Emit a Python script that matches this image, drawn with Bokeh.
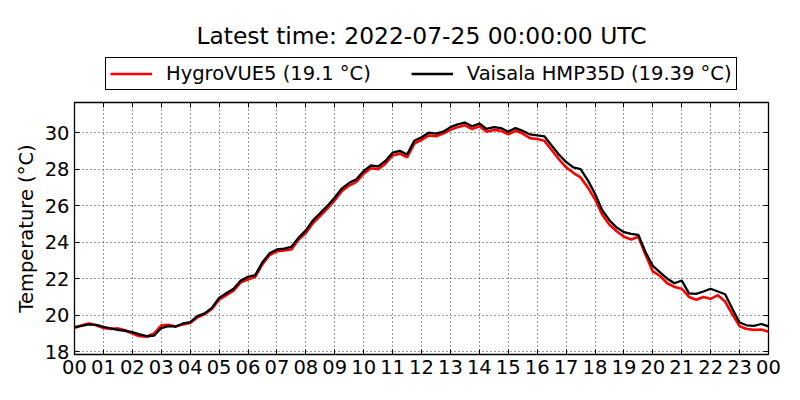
from bokeh.plotting import figure
from bokeh.models import Range1d, Legend, LegendItem, LinearAxis, FixedTicker, Label
from bokeh.layouts import column
from bokeh.embed import file_html
from bokeh.resources import INLINE

# time axis in hours (15-minute steps)
hours = [i * 0.25 for i in range(97)]

vaisala = [19.35, 19.42, 19.50, 19.47, 19.36, 19.28, 19.20, 19.15, 19.08, 18.95, 18.85, 18.88,
           19.30, 19.40, 19.38, 19.55, 19.62, 19.95, 20.10, 20.40, 20.95, 21.20, 21.45, 21.90,
           22.10, 22.20, 22.90, 23.40, 23.60, 23.65, 23.75, 24.25, 24.65, 25.20, 25.60, 26.00,
           26.45, 26.95, 27.25, 27.45, 27.90, 28.20, 28.15, 28.45, 28.90, 29.00, 28.80, 29.55,
           29.75, 30.00, 29.95, 30.05, 30.30, 30.45, 30.55, 30.35, 30.50, 30.20, 30.30, 30.25,
           30.05, 30.25, 30.10, 29.90, 29.85, 29.80, 29.30, 28.80, 28.40, 28.10, 28.00, 27.40,
           26.65, 25.75, 25.20, 24.80, 24.55, 24.45, 24.40, 23.45, 22.70, 22.35, 22.00, 21.75,
           21.90, 21.20, 21.17, 21.30, 21.45, 21.30, 21.15, 20.35, 19.60, 19.45, 19.42, 19.52,
           19.39]

hygrovue = [19.30, 19.45, 19.55, 19.45, 19.30, 19.25, 19.28, 19.18, 19.00, 18.85, 18.82, 19.00,
            19.45, 19.48, 19.38, 19.50, 19.58, 19.88, 20.05, 20.35, 20.85, 21.10, 21.35, 21.80,
            21.95, 22.10, 22.80, 23.30, 23.50, 23.55, 23.60, 24.15, 24.50, 25.05, 25.45, 25.85,
            26.30, 26.80, 27.10, 27.30, 27.75, 28.05, 28.00, 28.30, 28.75, 28.85, 28.65, 29.40,
            29.60, 29.85, 29.80, 29.95, 30.15, 30.30, 30.40, 30.20, 30.35, 30.05, 30.15, 30.10,
            29.90, 30.10, 29.95, 29.70, 29.65, 29.55, 29.05, 28.55, 28.10, 27.80, 27.55, 27.00,
            26.35, 25.50, 24.95, 24.60, 24.30, 24.15, 24.30, 23.30, 22.40, 22.15, 21.75, 21.55,
            21.45, 21.00, 20.85, 21.00, 20.90, 21.10, 20.75, 20.05, 19.40, 19.25, 19.20, 19.22,
            19.10]

x_ticks = list(range(25))
x_tick_labels = ["%02d" % (h % 24) for h in x_ticks]
y_ticks = [18, 20, 22, 24, 26, 28, 30]

title_text = "Latest time: 2022-07-25 00:00:00 UTC"
label_hygro = "HygroVUE5 (19.1 \u00b0C)"
label_vaisala = "Vaisala HMP35D (19.39 \u00b0C)"

FONT = "DejaVu Sans"
FS = "19.5px"
RED_W, BLK_W = 2.6, 2.3

# ---------- header: title + legend (frame aligned with the main plot, x from 74) ----------
head = figure(width=800, height=95, output_backend="svg", toolbar_location=None,
              x_range=Range1d(0, 1), y_range=Range1d(0, 1),
              min_border_left=0, min_border_right=0, min_border_top=0, min_border_bottom=0)
head.title = None
head.axis.visible = False
head.grid.visible = False
head.outline_line_color = None
head.background_fill_color = "white"
head.border_fill_color = "white"

# same series, lying outside the header's ranges: only their legend glyphs show
h_red = head.line(hours, hygrovue, line_color="red", line_width=RED_W)
h_blk = head.line(hours, vaisala, line_color="black", line_width=BLK_W)

head.add_layout(Label(x=347, y=60, x_units="screen", y_units="screen", text=title_text,
                      text_align="center", text_baseline="middle", text_font=FONT,
                      text_font_size="23.4px", text_color="black"))

legend = Legend(items=[LegendItem(label=label_hygro, renderers=[h_red]),
                       LegendItem(label=label_vaisala, renderers=[h_blk])],
                orientation="horizontal", location=(31, 5),
                label_text_font=FONT, label_text_font_size=FS, label_text_color="black",
                glyph_width=42, glyph_height=19, label_height=19,
                label_standoff=14, spacing=40, padding=4, margin=0,
                border_line_color="black", border_line_width=1, border_line_alpha=1,
                background_fill_color="white", background_fill_alpha=1)
head.add_layout(legend, "center")

# ---------- main plot ----------
p = figure(width=800, height=305, output_backend="svg", toolbar_location=None,
           x_range=Range1d(0, 24), y_range=Range1d(17.85, 31.65),
           min_border_left=74, min_border_right=32, min_border_top=7, min_border_bottom=46)
p.title = None
p.background_fill_color = "white"
p.border_fill_color = "white"
p.outline_line_color = "black"
p.outline_line_width = 1.3

p.line(hours, hygrovue, line_color="red", line_width=RED_W)
p.line(hours, vaisala, line_color="black", line_width=BLK_W)

for ax in (p.xaxis[0], p.yaxis[0]):
    ax.major_label_text_font = FONT
    ax.major_label_text_font_size = FS
    ax.major_label_text_color = "black"
    ax.axis_line_color = None
    ax.major_tick_in = 5
    ax.major_tick_out = 0
    ax.minor_tick_line_color = None
    ax.major_tick_line_color = "black"
    ax.major_label_standoff = 5

p.xaxis[0].ticker = FixedTicker(ticks=x_ticks)
p.xaxis[0].major_label_overrides = {t: l for t, l in zip(x_ticks, x_tick_labels)}
p.yaxis[0].ticker = FixedTicker(ticks=y_ticks)
p.yaxis[0].axis_label = "Temperature (\u00b0C)"
p.yaxis[0].axis_label_text_font = FONT
p.yaxis[0].axis_label_text_font_size = FS
p.yaxis[0].axis_label_text_font_style = "normal"
p.yaxis[0].axis_label_text_color = "black"
p.yaxis[0].axis_label_standoff = 4

# mirrored tick marks on right and top (labels not drawn)
for loc, tk in (("right", y_ticks), ("above", x_ticks)):
    ax2 = LinearAxis(ticker=FixedTicker(ticks=tk))
    ax2.major_label_text_font_size = "1px"
    ax2.major_label_text_color = None
    ax2.major_label_standoff = 0
    ax2.axis_line_color = None
    ax2.major_tick_in = 5
    ax2.major_tick_out = 0
    ax2.minor_tick_line_color = None
    p.add_layout(ax2, loc)

p.grid.grid_line_color = "black"
p.grid.grid_line_dash = "1 3"
p.grid.grid_line_width = 0.8
p.xgrid.ticker = FixedTicker(ticks=x_ticks)
p.ygrid.ticker = FixedTicker(ticks=y_ticks)

layout = column(head, p, spacing=0)
open("out.html", "w").write(file_html(layout, INLINE))
